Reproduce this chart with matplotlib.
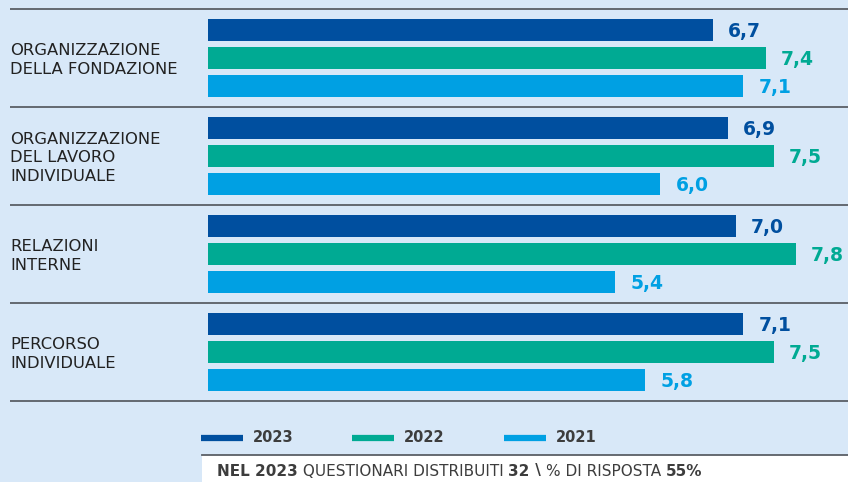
import numpy as np
import matplotlib.pyplot as plt
from matplotlib.lines import Line2D
from matplotlib.patches import Rectangle

# data
categories = ["ORGANIZZAZIONE\nDELLA FONDAZIONE",
              "ORGANIZZAZIONE\nDEL LAVORO\nINDIVIDUALE",
              "RELAZIONI\nINTERNE",
              "PERCORSO\nINDIVIDUALE"]
years = ["2023", "2022", "2021"]
v2023 = [6.7, 6.9, 7.0, 7.1]
v2022 = [7.4, 7.5, 7.8, 7.5]
v2021 = [7.1, 6.0, 5.4, 5.8]
colors = ["#004f9f", "#00aa93", "#00a0e3"]

plt.rcParams['font.family'] = ['DejaVu Sans']
bg = "#d8e8f8"
W, H = 848, 482
fig = plt.figure(figsize=(W / 100, H / 100), dpi=100, facecolor=bg)
ax = fig.add_axes([0, 0, 1, 1])
ax.set_facecolor(bg)

# pixel layout -> data scale
px_unit = 75.4     # px per score point
x0_px = 208
grp_px = 98
grp0_px = 58
ax.set_xlim(-x0_px / px_unit, (W - x0_px) / px_unit)
ax.set_ylim((H - grp0_px) / grp_px, -grp0_px / grp_px)
ax.axis("off")

off = 28 / grp_px
bh = 22 / grp_px
y = np.arange(len(categories))
for k, (vals, c) in enumerate(zip([v2023, v2022, v2021], colors)):
    yy = y + (k - 1) * off
    ax.barh(yy, vals, height=bh, color=c, left=0)
    for yi, v in zip(yy, vals):
        ax.text(v + 15 / px_unit, yi + 2 / grp_px, f"{v:.1f}".replace(".", ","),
                color=c, fontsize=13.5, fontweight="bold", va="center", ha="left")

# separators
for s in np.arange(len(categories) + 1) - 0.5:
    ax.plot([(10 - x0_px) / px_unit, (W - x0_px) / px_unit], [s, s],
            color="#5a5f66", lw=1.3, solid_capstyle="butt")

# category labels
for yi, cat in zip(y, categories):
    ax.text((10 - x0_px) / px_unit, yi + 2 / grp_px, cat, fontsize=11.8, color="#222222",
            va="center", ha="left", linespacing=1.32)

# legend
leg_y = 1 - 438 / H
for xs, lab, c in zip([201, 352, 504], years, colors):
    fig.add_artist(Line2D([xs / W, (xs + 42) / W], [leg_y, leg_y], color=c, lw=4.5,
                          solid_capstyle="butt"))
    fig.text((xs + 52) / W, leg_y, lab, fontsize=10.5, fontweight="bold",
             color="#3d3d3d", va="center", ha="left")

# footer
fig.add_artist(Rectangle((202 / W, 0), 1 - 202 / W, 1 - 455 / H,
                         transform=fig.transFigure, facecolor="white", edgecolor="none"))
fig.add_artist(Line2D([202 / W, 1], [1 - 455 / H, 1 - 455 / H], color="#5a5f66", lw=1.3))
parts = [("NEL 2023", "bold"), (" QUESTIONARI DISTRIBUITI ", "normal"), ("32", "bold"),
         (" \\ ", "bold"), ("% DI RISPOSTA ", "normal"), ("55%", "bold")]
fig.canvas.draw()
r = fig.canvas.get_renderer()
xp = 217
for txt, w in parts:
    t = fig.text(xp / W, 1 - 471 / H, txt, fontsize=11, fontweight=w,
                 color="#3d3d3d", va="center", ha="left")
    xp += t.get_window_extent(renderer=r).width

fig.savefig("out.png", dpi=100, facecolor=bg)
